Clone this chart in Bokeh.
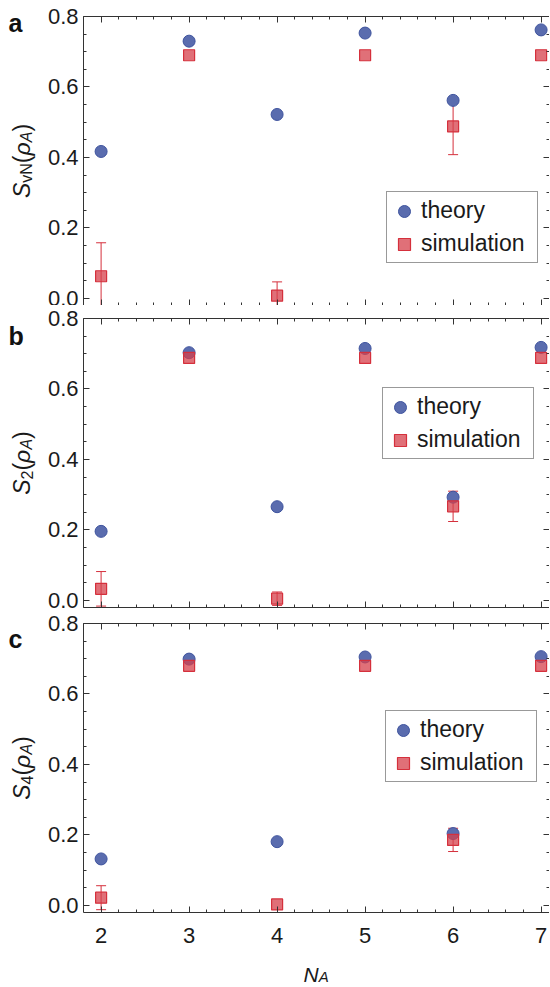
import math
from bokeh.plotting import figure
from bokeh.models import (ColumnDataSource, Range1d, LinearAxis, FixedTicker,
                          Legend, LegendItem, Whisker, TeeHead, PrintfTickFormatter)
from bokeh.layouts import column, row
from bokeh.embed import file_html
from bokeh.resources import INLINE
from bokeh.core.properties import value

# ---------------- data ----------------
N_A = [2, 3, 4, 5, 6, 7]
theory_vn = [0.417, 0.730, 0.522, 0.753, 0.562, 0.762]
sim_vn = [0.063, 0.690, 0.008, 0.690, 0.488, 0.690]
err_vn = [0.095, 0.0, 0.039, 0.0, 0.080, 0.0]
theory_s2 = [0.196, 0.703, 0.266, 0.715, 0.293, 0.718]
sim_s2 = [0.033, 0.688, 0.005, 0.688, 0.267, 0.688]
err_s2 = [0.049, 0.0, 0.019, 0.0, 0.043, 0.0]
theory_s4 = [0.132, 0.699, 0.181, 0.705, 0.204, 0.706]
sim_s4 = [0.022, 0.680, 0.003, 0.680, 0.186, 0.680]
err_s4 = [0.034, 0.0, 0.0, 0.0, 0.033, 0.0]
y_ticks = [0.0, 0.2, 0.4, 0.6, 0.8]
y_minor = [0.05, 0.1, 0.15, 0.25, 0.3, 0.35, 0.45, 0.5, 0.55, 0.65, 0.7, 0.75]
x_ticks = [2, 3, 4, 5, 6, 7]
x_minor = [2.2, 2.4, 2.6, 2.8, 3.2, 3.4, 3.6, 3.8, 4.2, 4.4, 4.6, 4.8,
           5.2, 5.4, 5.6, 5.8, 6.2, 6.4, 6.6, 6.8]
panel_letters = ["a", "b", "c"]
y_subscripts = ["vN", "2", "4"]
legend_labels = ["theory", "simulation"]

# ---------------- style ----------------
FONT = "Liberation Sans"
TXT = "#1a1a1a"
AX = "#333333"
TH_FILL, TH_LINE = "#5a6cae", "#3e539e"
SIM_FILL, SIM_LINE = "#d5404b", "#d5303c"
LAB_W = 37          # strip holding panel letter + y label
MAIN_LEFT = 46      # left border of the plot (tick labels)
FRAME_W = 466
FRAME_H = 289
TICK_FS = "22px"

ADV = {"S": 0.667, "v": 0.5, "N": 0.722, "2": 0.556, "4": 0.556, "(": 0.333,
       ")": 0.333, "\u03c1": 0.58, "A": 0.667}


def text_width(s, size):
    return sum(ADV.get(c, 0.55) for c in s) * size


def blank_fig(w, h, btop=0, bbot=0, frame_h=None):
    fh = h if frame_h is None else frame_h
    f = figure(width=w, height=h, x_range=Range1d(0, w), y_range=Range1d(0, fh),
               output_backend="svg", toolbar_location=None, title=None,
               x_axis_location=None, y_axis_location=None,
               min_border=0, min_border_left=0, min_border_right=0,
               min_border_top=btop, min_border_bottom=bbot)
    f.xgrid.visible = False
    f.ygrid.visible = False
    f.outline_line_color = None
    f.background_fill_color = "white"
    f.border_fill_color = "white"
    return f


def put_text(f, x, y, t, size, style="normal", angle=0.0, color=TXT):
    f.text(x=[x], y=[y], text=[t], angle=angle, text_font=value(FONT),
           text_font_size=value(f"{size}px"), text_font_style=style,
           text_color=color, text_align="left", text_baseline="alphabetic")


def base_axis(ax):
    ax.axis_line_color = AX
    ax.axis_line_width = 1
    ax.major_tick_line_color = AX
    ax.minor_tick_line_color = AX
    ax.major_tick_in = 6
    ax.major_tick_out = 0
    ax.minor_tick_in = 3
    ax.minor_tick_out = 0


def add_labelled_axis(p, side, majors, minors, standoff, fmt=None):
    ax = LinearAxis(ticker=FixedTicker(ticks=majors, minor_ticks=minors))
    if fmt is not None:
        ax.formatter = fmt
    base_axis(ax)
    ax.major_label_text_font = FONT
    ax.major_label_text_font_size = TICK_FS
    ax.major_label_text_color = TXT
    ax.major_label_standoff = standoff
    p.add_layout(ax, side)


def add_plain_axis(p, side, majors, minors):
    # ticks only: long and short ticks both drawn as minor ticks of two axes
    for pos, length in ((majors, 6), (minors, 3)):
        ax = LinearAxis(ticker=FixedTicker(ticks=[], minor_ticks=pos))
        base_axis(ax)
        ax.minor_tick_in = length
        ax.major_label_standoff = 0
        p.add_layout(ax, side)


def make_panel(theory, sim, err, sub, letter, legend_xy, letter_y, btop, bbot, last):
    height = btop + FRAME_H + bbot
    p = figure(width=MAIN_LEFT + FRAME_W, height=height,
               x_range=Range1d(1.8, 1.8 + FRAME_W / 88.0), y_range=Range1d(-0.02, 0.8),
               output_backend="svg", toolbar_location=None, title=None,
               x_axis_location=None, y_axis_location=None,
               min_border_left=MAIN_LEFT, min_border_right=0,
               min_border_top=btop, min_border_bottom=bbot)
    p.xgrid.visible = False
    p.ygrid.visible = False
    p.outline_line_color = None
    p.background_fill_color = "white"
    p.border_fill_color = "white"

    add_labelled_axis(p, "left", y_ticks, y_minor, 5, PrintfTickFormatter(format="%.1f"))
    add_plain_axis(p, "right", y_ticks, y_minor)
    add_plain_axis(p, "above", x_ticks, x_minor)
    if last:
        add_labelled_axis(p, "below", x_ticks, x_minor, 15)
    else:
        add_plain_axis(p, "below", x_ticks, x_minor)

    # error bars of the simulation
    xs = [x for x, e in zip(N_A, err) if e > 0]
    lo = [s - e for s, e in zip(sim, err) if e > 0]
    hi = [s + e for s, e in zip(sim, err) if e > 0]
    esrc = ColumnDataSource(dict(x=xs, lower=lo, upper=hi))
    wh = Whisker(source=esrc, base="x", lower="lower", upper="upper",
                 line_color=SIM_LINE, line_width=1,
                 upper_head=TeeHead(size=10, line_color=SIM_LINE, line_width=1),
                 lower_head=TeeHead(size=10, line_color=SIM_LINE, line_width=1))
    p.add_layout(wh)

    src = ColumnDataSource(dict(x=N_A, theory=theory, sim=sim))
    r_th = p.scatter("x", "theory", source=src, marker="circle", size=12,
                     fill_color=TH_FILL, line_color=TH_LINE, line_width=1)
    r_sim = p.scatter("x", "sim", source=src, marker="square", size=11,
                      fill_color=SIM_FILL, fill_alpha=0.75, line_color=SIM_LINE, line_width=1.2)

    legend = Legend(items=[LegendItem(label=legend_labels[0], renderers=[r_th]),
                           LegendItem(label=legend_labels[1], renderers=[r_sim])],
                    location=legend_xy, orientation="vertical",
                    label_text_font=FONT, label_text_font_size="23px", label_text_color=TXT,
                    glyph_width=30, glyph_height=30, label_height=33, label_width=114,
                    label_standoff=2, spacing=0, padding=2, margin=0,
                    border_line_color=AX, border_line_width=1,
                    background_fill_color="white", background_fill_alpha=1.0)
    p.add_layout(legend)

    # left strip, same borders as the plot so both frames coincide
    lab = blank_fig(LAB_W, height, btop, bbot, FRAME_H)
    put_text(lab, 8, letter_y, letter, 25, "bold", 0.0, "#111111")
    pieces = [("S", 23, "italic", 0), (sub, 16, "normal", 5), ("(", 23, "normal", 0),
              ("\u03c1", 23, "italic", 0), ("A", 16, "italic", 5), (")", 23, "normal", 0)]
    total = sum(text_width(t, s) for t, s, _, _ in pieces)
    ypos = FRAME_H / 2 - total / 2
    for t, s, st, shift in pieces:
        put_text(lab, 21 + shift, ypos, t, s, st, math.pi / 2)
        ypos += text_width(t, s)

    return row(lab, p, spacing=0)


BOT_B = 40
ra = make_panel(theory_vn, sim_vn, err_vn, y_subscripts[0], panel_letters[0], (303, 42), 283, 16, 0, False)
rb = make_panel(theory_s2, sim_s2, err_s2, y_subscripts[1], panel_letters[1], (299, 148), 272, 13, 3, False)
rc = make_panel(theory_s4, sim_s4, err_s4, y_subscripts[2], panel_letters[2], (302, 130), 274, 13, BOT_B, True)

# x-axis label N_A
XL_H = 35
xl = blank_fig(LAB_W + MAIN_LEFT + FRAME_W, XL_H)
put_text(xl, 303, 13, "N", 21, "italic")
put_text(xl, 303 + 0.722 * 21, 11, "A", 15, "italic")

layout = column(ra, rb, rc, xl, spacing=0)
open("out.html", "w").write(file_html(layout, INLINE))
